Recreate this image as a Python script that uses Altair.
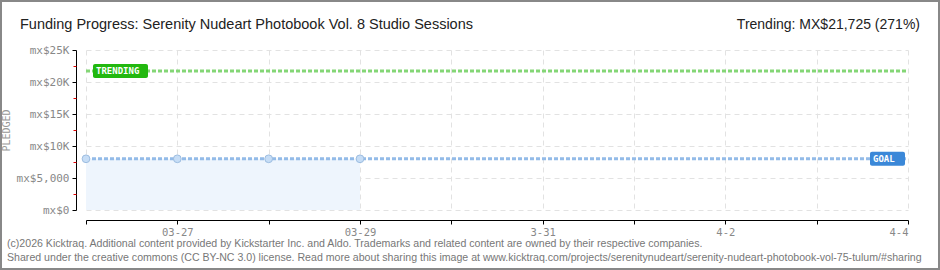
import json
import altair as alt
import pandas as pd

# ---- data ----
day_index = [0, 1, 2, 3]
pledged = [8000, 8000, 8000, 8000]
goal_value = 8000
trend_value = 21725
x_ticks = list(range(10))
x_tick_labels = ["", "03-27", "", "03-29", "", "3-31", "", "4-2", "", "4-4"]
y_ticks = [0, 5000, 10000, 15000, 20000, 25000]
y_tick_labels = ["mx$0", "mx$5,000", "mx$10K", "mx$15K", "mx$20K", "mx$25K"]
y_minor_ticks = [2500, 7500, 12500, 17500, 22500]

title_text = "Funding Progress: Serenity Nudeart Photobook Vol. 8 Studio Sessions"
trend_text = "Trending:  MX$21,725 (271%)"
footer_1 = "(c)2026 Kicktraq. Additional content provided by Kickstarter Inc. and Aldo. Trademarks and related content are owned by their respective companies."
footer_2 = "Shared under the creative commons (CC BY-NC 3.0) license. Read more about sharing this image at www.kicktraq.com/projects/serenitynudeart/serenity-nudeart-photobook-vol-75-tulum/#sharing"

df = pd.DataFrame({"day": day_index, "pledged": pledged})

W, H = 822, 160
FONT = "Liberation Sans"
PIX = "DejaVu Sans Mono"

x_scale = alt.Scale(domain=[0, 9], nice=False, zero=False)
y_scale = alt.Scale(domain=[0, 25000], nice=False)

x_label_expr = json.dumps(x_tick_labels) + "[datum.value]"
y_label_expr = json.dumps(y_tick_labels) + "[round(datum.value/5000)]"

x_axis = alt.Axis(values=x_ticks, labelExpr=x_label_expr, title=None, offset=10,
                  domainColor="#000", tickColor="#000", tickSize=4, tickOffset=0,
                  labelColor="#888", labelFont=PIX, labelFontSize=10.5, labelPadding=3,
                  grid=True, gridColor="#e2e2e2", gridDash=[5, 4], labelOverlap=False)
y_axis = alt.Axis(values=y_ticks, labelExpr=y_label_expr, title="PLEDGED", offset=10,
                  domainColor="#000", tickColor="#000", tickSize=4,
                  labelColor="#888", labelFont=PIX, labelFontSize=11, labelPadding=3,
                  titleColor="#999", titleFont=PIX, titleFontSize=10, titleFontWeight="normal",
                  titlePadding=5, grid=True, gridColor="#e2e2e2", gridDash=[5, 4])

base = alt.Chart(df)

area = base.mark_area(color="#eef5fd", opacity=1).encode(
    x=alt.X("day:Q", scale=x_scale, axis=x_axis),
    y=alt.Y("pledged:Q", scale=y_scale, axis=y_axis),
)

minor = base.mark_point(opacity=0).encode(
    y=alt.Y("pledged:Q", scale=y_scale,
            axis=alt.Axis(values=y_minor_ticks, labels=False, domain=False, grid=False,
                          tickColor="#e00000", tickSize=3, offset=10, title=None, orient="left")),
)

goal_line = alt.Chart(pd.DataFrame({"a": [0], "b": [9], "g": [goal_value]})).mark_rule(
    color="#93bbe8", strokeWidth=3, strokeDash=[4, 2]).encode(
    x=alt.X("a:Q", scale=x_scale), x2="b:Q", y=alt.Y("g:Q", scale=y_scale, axis=None))

trend_line = alt.Chart(pd.DataFrame({"a": [0], "b": [9], "t": [trend_value]})).mark_rule(
    color="#84d676", strokeWidth=3, strokeDash=[4, 2]).encode(
    x=alt.X("a:Q", scale=x_scale), x2="b:Q", y=alt.Y("t:Q", scale=y_scale, axis=None))

points = base.mark_circle(size=60, color="#c6ddf6", stroke="#9dbde0", strokeWidth=1, opacity=1).encode(
    x=alt.X("day:Q", scale=x_scale), y=alt.Y("pledged:Q", scale=y_scale, axis=None))

trend_box_df = pd.DataFrame({"a": [0], "t": [trend_value], "label": ["TRENDING"]})
trend_box = alt.Chart(trend_box_df).mark_rect(
    color="#22b80f", cornerRadius=2, xOffset=7, x2Offset=62, yOffset=-7, y2Offset=7).encode(
    x=alt.X("a:Q", scale=x_scale), x2="a:Q", y=alt.Y("t:Q", scale=y_scale, axis=None), y2="t:Q")
trend_lbl = alt.Chart(trend_box_df).mark_text(
    color="white", font=PIX, fontSize=9, fontWeight="bold", align="left", baseline="middle",
    dx=10, dy=0).encode(x=alt.X("a:Q", scale=x_scale), y=alt.Y("t:Q", scale=y_scale, axis=None),
                        text="label:N")

goal_box_df = pd.DataFrame({"b": [9], "g": [goal_value], "label": ["GOAL"]})
goal_box = alt.Chart(goal_box_df).mark_rect(
    color="#3b88d8", cornerRadius=2, xOffset=-38, x2Offset=-3, yOffset=-7, y2Offset=7).encode(
    x=alt.X("b:Q", scale=x_scale), x2="b:Q", y=alt.Y("g:Q", scale=y_scale, axis=None), y2="g:Q")
goal_lbl = alt.Chart(goal_box_df).mark_text(
    color="white", font=PIX, fontSize=9, fontWeight="bold", align="left", baseline="middle",
    dx=-35).encode(x=alt.X("b:Q", scale=x_scale), y=alt.Y("g:Q", scale=y_scale, axis=None),
                   text="label:N")

frame = alt.Chart(pd.DataFrame({"v": [0]})).mark_rect(
    fill=None, stroke="#888", strokeWidth=2, clip=False).encode(
    x=alt.value(-85), x2=alt.value(W + 31), y=alt.value(-49), y2=alt.value(H + 59))

title_mark = alt.Chart(pd.DataFrame({"t": [title_text]})).mark_text(
    font=FONT, fontSize=14.5, color="#222", align="left", baseline="alphabetic").encode(
    x=alt.value(-66), y=alt.value(-21), text="t:N")
trend_mark = alt.Chart(pd.DataFrame({"t": [trend_text]})).mark_text(
    font=FONT, fontSize=14, color="#222", align="right", baseline="alphabetic").encode(
    x=alt.value(W + 12), y=alt.value(-21), text="t:N")
foot1 = alt.Chart(pd.DataFrame({"t": [footer_1]})).mark_text(
    font=FONT, fontSize=10.6, color="#777", align="left", baseline="alphabetic").encode(
    x=alt.value(-79), y=alt.value(H + 37), text="t:N")
foot2 = alt.Chart(pd.DataFrame({"t": [footer_2]})).mark_text(
    font=FONT, fontSize=10.6, color="#777", align="left", baseline="alphabetic").encode(
    x=alt.value(-79), y=alt.value(H + 51), text="t:N")

chart = alt.layer(
    area, minor, goal_line, trend_line, points, trend_box, trend_lbl, goal_box, goal_lbl,
    frame, title_mark, trend_mark, foot1, foot2
).resolve_axis(y="independent").properties(
    width=W, height=H,
    autosize=alt.AutoSizeParams(type="none"),
    padding={"left": 86, "top": 50, "right": 32, "bottom": 60},
    background="white",
).configure_view(stroke=None)

chart.save("out.html", embed_options={"renderer": "svg", "actions": False})
